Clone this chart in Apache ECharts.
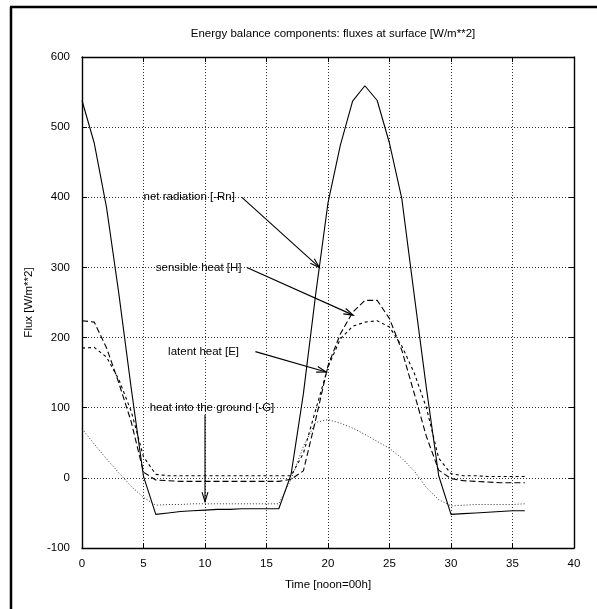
<!DOCTYPE html>
<html>
<head>
<meta charset="utf-8">
<title>Energy balance components</title>
<script src="https://cdn.jsdelivr.net/npm/echarts@6/dist/echarts.min.js"></script>
<style>
  html, body { margin: 0; padding: 0; background: #fff; }
  #chart { width: 597px; height: 609px; }
</style>
</head>
<body>
<div id="chart"></div>
<script>
// Hours since noon (00h), hourly output of the surface energy balance run
const hours = [0,1,2,3,4,5,6,7,8,9,10,11,12,13,14,15,16,17,18,19,20,21,22,23,24,25,26,27,28,29,30,31,32,33,34,35,36];

// Net radiation [-Rn], W/m**2
const netRadiation = [538,477,385,262,128,2,-52,-50,-48,-47,-46,-45,-45,-44,-44,-44,-44,5,120,262,392,474,537,559,538,477,398,262,128,3,-52,-51,-50,-49,-48,-47,-47];
// Sensible heat [H], W/m**2
const sensibleHeat = [224,222,185,135,80,8,-3,-4,-5,-5,-5,-5,-5,-5,-5,-5,-5,-2,10,83,160,205,236,253,253,227,182,121,59,11,-1,-4,-5,-6,-7,-7,-7];
// Latent heat [E], W/m**2
const latentHeat = [185,186,172,140,95,30,5,3,3,3,3,3,3,3,3,3,3,3,35,97,158,198,216,222,224,215,188,150,100,28,6,3,3,2,2,2,2];
// Heat into the ground [-G], W/m**2
const groundHeat = [70,48,27,7,-12,-28,-39,-38,-38,-37,-37,-37,-37,-37,-37,-37,-37,-2,45,79,83,78,71,62,52,42,28,10,-14,-31,-40,-39,-38,-38,-38,-38,-37];

// Annotation labels and the arrows pointing at each curve (data units)
const noteText   = ['net radiation [-Rn]', 'sensible heat [H]', 'latent heat [E]', 'heat into the ground [-G]'];
const noteAt     = [[5, 400], [6, 300], [7, 180], [5.5, 100]];
const arrowFrom  = [[13, 400], [13.4, 300], [14.1, 180], [10, 90]];
const arrowTo    = [[19.3, 300], [22.05, 232], [19.85, 151], [10, -34]];

const FONT = '"Liberation Sans", Arial, Helvetica, sans-serif';
const FS = 11.5;

const pairs = (vals) => hours.map((h, i) => [h, vals[i]]);

const chart = echarts.init(document.getElementById('chart'), null, { renderer: 'canvas' });

const gridLine = { show: true, lineStyle: { color: '#333', width: 1, type: [1, 2] } };
const frameLine = { show: true, onZero: false, lineStyle: { color: '#000', width: 1.4 } };
const tick = { show: true, inside: true, length: 5, lineStyle: { color: '#000', width: 1 } };

const option = {
  animation: false,
  backgroundColor: '#fff',
  textStyle: { fontFamily: FONT },
  title: {
    text: 'Energy balance components: fluxes at surface [W/m**2]',
    left: 328,
    top: 23,
    textAlign: 'center',
    textStyle: { fontFamily: FONT, fontSize: FS, fontWeight: 'normal', color: '#000' }
  },
  grid: { left: 82, top: 57, right: 23, bottom: 61, containLabel: false },
  xAxis: [
    {
      type: 'value', min: 0, max: 40, interval: 5,
      name: 'Time [noon=00h]', nameLocation: 'middle', nameGap: 31,
      nameTextStyle: { fontFamily: FONT, fontSize: FS, color: '#000' },
      axisLine: frameLine, axisTick: tick, splitLine: gridLine,
      axisLabel: { color: '#000', fontFamily: FONT, fontSize: FS, margin: 10 }
    },
    {
      type: 'value', min: 0, max: 40, interval: 5, position: 'top',
      axisLine: frameLine, axisTick: tick, splitLine: { show: false },
      axisLabel: { show: false }
    }
  ],
  yAxis: [
    {
      type: 'value', min: -100, max: 600, interval: 100,
      name: 'Flux [W/m**2]', nameLocation: 'middle', nameGap: 47, nameRotate: 90,
      nameTextStyle: { fontFamily: FONT, fontSize: FS, color: '#000' },
      axisLine: frameLine, axisTick: tick, splitLine: gridLine,
      axisLabel: { color: '#000', fontFamily: FONT, fontSize: FS, margin: 12 }
    },
    {
      type: 'value', min: -100, max: 600, interval: 100, position: 'right',
      axisLine: frameLine, axisTick: tick, splitLine: { show: false },
      axisLabel: { show: false }
    }
  ],
  graphic: [
    // page frame, left and top edges
    { type: 'line', shape: { x1: 11, y1: 7, x2: 11, y2: 609 }, style: { stroke: '#000', lineWidth: 2.5 } },
    { type: 'line', shape: { x1: 10, y1: 7, x2: 597, y2: 7 }, style: { stroke: '#000', lineWidth: 2.5 } }
  ],
  series: [
    {
      name: 'net radiation [-Rn]', type: 'line', data: pairs(netRadiation),
      showSymbol: false, silent: true,
      lineStyle: { color: '#000', width: 1.1, type: 'solid' }
    },
    {
      name: 'sensible heat [H]', type: 'line', data: pairs(sensibleHeat),
      showSymbol: false, silent: true,
      lineStyle: { color: '#000', width: 1.1, type: [6, 3] }
    },
    {
      name: 'latent heat [E]', type: 'line', data: pairs(latentHeat),
      showSymbol: false, silent: true,
      lineStyle: { color: '#000', width: 1.1, type: [3, 3] }
    },
    {
      name: 'heat into the ground [-G]', type: 'line', data: pairs(groundHeat),
      showSymbol: false, silent: true,
      lineStyle: { color: '#333', width: 1, type: [1, 2] }
    },
    {
      // text labels with open-headed arrows
      type: 'custom', silent: true, clip: false,
      data: noteText.map((t, i) => [noteAt[i][0], noteAt[i][1], arrowFrom[i][0], arrowFrom[i][1], arrowTo[i][0], arrowTo[i][1]]),
      encode: { x: [0, 2, 4], y: [1, 3, 5] },
      renderItem: function (params, api) {
        const i = params.dataIndex;
        const p = api.coord([api.value(0), api.value(1)]);
        const a = api.coord([api.value(2), api.value(3)]);
        const b = api.coord([api.value(4), api.value(5)]);
        const ang = Math.atan2(b[1] - a[1], b[0] - a[0]);
        const L = 10, spread = 0.3;
        const h1 = [b[0] - L * Math.cos(ang - spread), b[1] - L * Math.sin(ang - spread)];
        const h2 = [b[0] - L * Math.cos(ang + spread), b[1] - L * Math.sin(ang + spread)];
        return {
          type: 'group',
          children: [
            {
              type: 'text',
              style: {
                text: noteText[i], x: p[0], y: p[1],
                fill: '#000', font: FS + 'px ' + FONT,
                textAlign: 'left', textVerticalAlign: 'middle'
              }
            },
            { type: 'line', shape: { x1: a[0], y1: a[1], x2: b[0], y2: b[1] }, style: { stroke: '#000', lineWidth: 1.1 } },
            { type: 'polyline', shape: { points: [h1, b, h2] }, style: { stroke: '#000', lineWidth: 1.1, fill: null } }
          ]
        };
      }
    }
  ]
};

chart.setOption(option);
</script>
</body>
</html>
